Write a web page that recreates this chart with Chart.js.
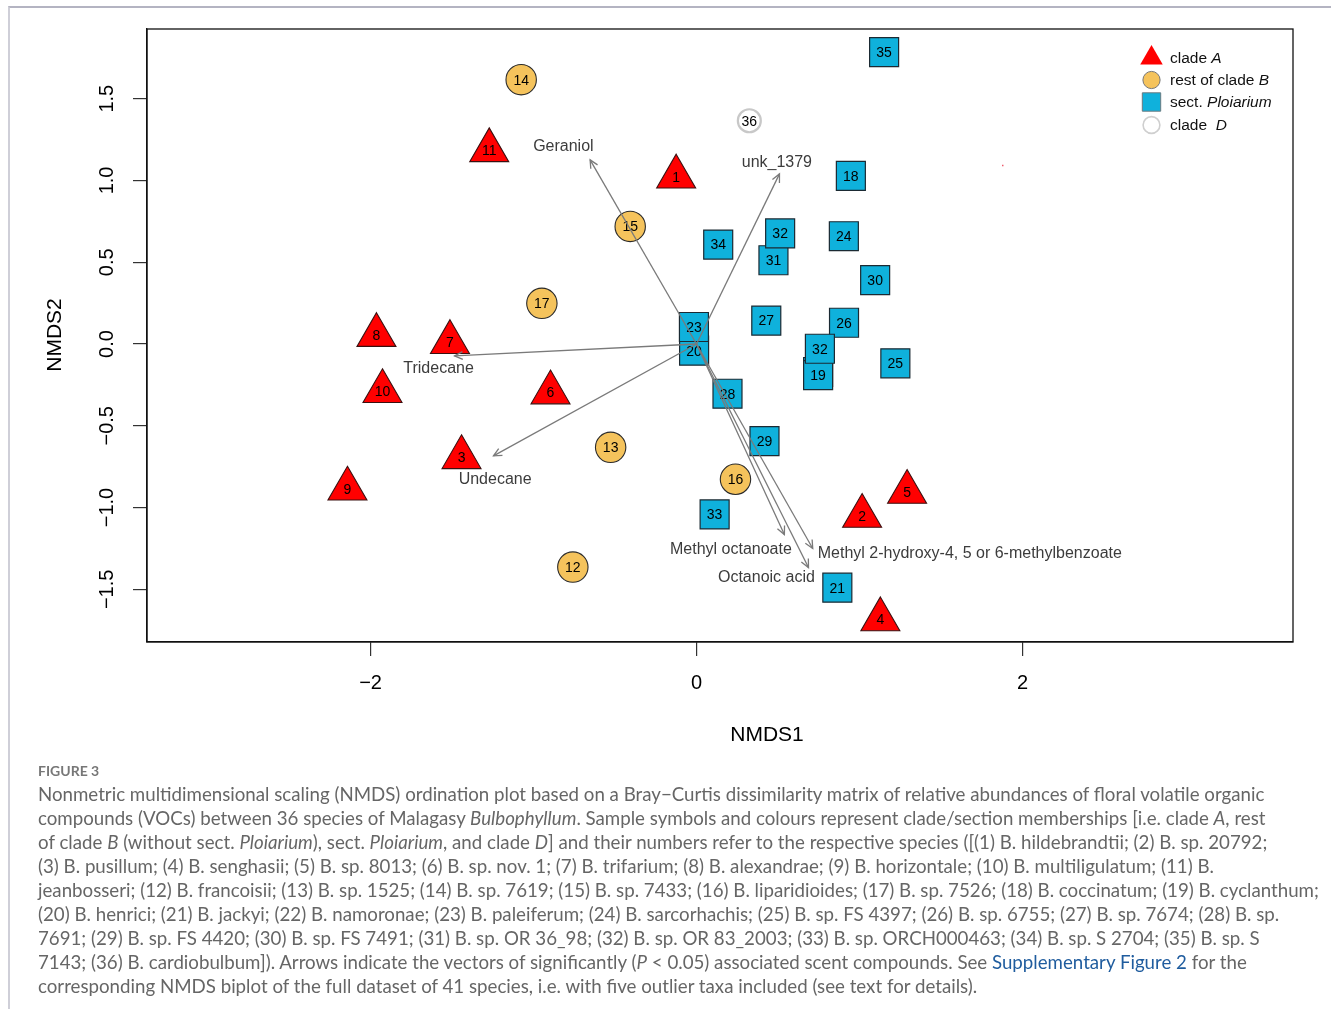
<!DOCTYPE html>
<html>
<head>
<meta charset="utf-8">
<script src="https://cdn.jsdelivr.net/npm/chart.js@4.4.0/dist/chart.umd.min.js"></script>
<style>
  body { margin: 0; background: #fff; width: 1331px; height: 1009px; overflow: hidden; position: relative; }
  .frame { position: absolute; left: 8px; top: 6px; right: 0; bottom: 0; border-left: 2px solid #cfcfd8; border-top: 2px solid #b4b4c2; }
  #wrap { position: absolute; left: 0; top: 0; width: 1331px; height: 760px; }
  .caption { position: absolute; left: 38px; top: 759px; font-family: Lato, "Open Sans", sans-serif; color: #666; font-size: 18.7px; line-height: 24px; white-space: nowrap; }
  .caption .fig { font-size: 14px; font-weight: bold; color: #777; line-height: 23px; }
  .caption a { color: #1f5c9e; text-decoration: none; }
</style>
</head>
<body>
<div class="frame"></div>
<div id="wrap"><canvas id="nmds" width="1331" height="760"></canvas></div>
<div class="caption">
  <div class="fig">FIGURE 3</div>
  <div>Nonmetric multidimensional scaling (NMDS) ordination plot based on a Bray−Curtis dissimilarity matrix of relative abundances of floral volatile organic</div>
  <div>compounds (VOCs) between 36 species of Malagasy <i>Bulbophyllum</i>. Sample symbols and colours represent clade/section memberships [i.e. clade <i>A</i>, rest</div>
  <div>of clade <i>B</i> (without sect. <i>Ploiarium</i>), sect. <i>Ploiarium</i>, and clade <i>D</i>] and their numbers refer to the respective species ([(1) B. hildebrandtii; (2) B. sp. 20792;</div>
  <div>(3) B. pusillum; (4) B. senghasii; (5) B. sp. 8013; (6) B. sp. nov. 1; (7) B. trifarium; (8) B. alexandrae; (9) B. horizontale; (10) B. multiligulatum; (11) B.</div>
  <div>jeanbosseri; (12) B. francoisii; (13) B. sp. 1525; (14) B. sp. 7619; (15) B. sp. 7433; (16) B. liparidioides; (17) B. sp. 7526; (18) B. coccinatum; (19) B. cyclanthum;</div>
  <div>(20) B. henrici; (21) B. jackyi; (22) B. namoronae; (23) B. paleiferum; (24) B. sarcorhachis; (25) B. sp. FS 4397; (26) B. sp. 6755; (27) B. sp. 7674; (28) B. sp.</div>
  <div>7691; (29) B. sp. FS 4420; (30) B. sp. FS 7491; (31) B. sp. OR 36_98; (32) B. sp. OR 83_2003; (33) B. sp. ORCH000463; (34) B. sp. S 2704; (35) B. sp. S</div>
  <div>7143; (36) B. cardiobulbum]). Arrows indicate the vectors of significantly (<i>P</i> &lt; 0.05) associated scent compounds. See <a>Supplementary Figure 2</a> for the</div>
  <div>corresponding NMDS biplot of the full dataset of 41 species, i.e. with five outlier taxa included (see text for details).</div>
</div>
<script>
// species scores (NMDS1, NMDS2)
const cladeAIds = ['1', '2', '3', '4', '5', '6', '7', '8', '9', '10', '11'];
const cladeAX = [-0.125, 1.016, -1.442, 1.128, 1.292, -0.896, -1.513, -1.964, -2.142, -1.927, -1.272];
const cladeAY = [1.023, -1.052, -0.693, -1.684, -0.905, -0.297, 0.011, 0.054, -0.885, -0.289, 1.184];

const cladeBIds = ['12', '13', '14', '15', '16', '17'];
const cladeBX = [-0.759, -0.527, -1.076, -0.407, 0.239, -0.949];
const cladeBY = [-1.364, -0.632, 1.616, 0.719, -0.827, 0.249];

const ploiIds = ['18', '19', '20', '21', '23', '24', '25', '26', '27', '28', '29', '30', '31', '32', '32', '33', '34', '35'];
const ploiX = [0.947, 0.746, -0.015, 0.864, -0.016, 0.904, 1.220, 0.905, 0.428, 0.190, 0.417, 1.096, 0.472, 0.513, 0.757, 0.111, 0.133, 1.151];
const ploiY = [1.028, -0.190, -0.041, -1.490, 0.104, 0.659, -0.118, 0.130, 0.143, -0.304, -0.594, 0.390, 0.512, 0.676, -0.029, -1.042, 0.608, 1.785];

// square almost completely hidden behind 19 / 32
const hiddenIds = ['22'];
const hiddenX = [0.746];
const hiddenY = [-0.171];

const cladeDIds = ['36'];
const cladeDX = [0.324];
const cladeDY = [1.365];

// stray mark in the upper right of the plot
const strayX = [1.879];
const strayY = [1.091];

// fitted scent vectors and where their names sit
const vecNames = ['Geraniol', 'unk_1379', 'Tridecane', 'Undecane', 'Methyl octanoate', 'Methyl 2-hydroxy-4, 5 or 6-methylbenzoate', 'Octanoic acid'];
const vecX = [-0.653, 0.509, -1.485, -1.246, 0.539, 0.713, 0.687];
const vecY = [1.126, 1.040, -0.073, -0.684, -1.165, -1.250, -1.367];
const vecLabelX = [-0.817, 0.493, -1.583, -1.236, 0.211, 1.677, 0.429];
const vecLabelY = [1.204, 1.112, -0.153, -0.828, -1.255, -1.281, -1.426];

const xTicks = [-2, 0, 2];
const xTickLabels = ['\u22122', '0', '2'];
const yTicks = [-1.5, -1, -0.5, 0, 0.5, 1, 1.5];
const yTickLabels = ['\u22121.5', '\u22121.0', '\u22120.5', '0.0', '0.5', '1.0', '1.5'];
const xLimits = [-3.372, 3.66];
const yLimits = [-1.822, 1.926];

const RED = '#ff0000', ORANGE = '#f5c35c', BLUE = '#0fb1dc';
const FONT = '"Liberation Sans", Arial, Helvetica, sans-serif';

function toPoints(xs, ys) {
    return xs.map((x, i) => ({ x: x, y: ys[i] }));
}

const datasets = [];

vecNames.forEach((name, i) => {
    datasets.push({
        type: 'line',
        label: name,
        data: [{ x: 0, y: 0 }, { x: vecX[i], y: vecY[i] }],
        borderColor: '#7a7a7a',
        borderWidth: 1.3,
        pointRadius: 0,
        showLine: true,
        fill: false,
        order: 0,
        clip: false,
        arrow: true,
        vecLabel: { text: name, x: vecLabelX[i], y: vecLabelY[i] }
    });
});

datasets.push({
    label: 'sect. Ploiarium',
    data: toPoints(ploiX, ploiY),
    ids: ploiIds,
    pointStyle: 'rect',
    pointRadius: 20.5,
    backgroundColor: BLUE,
    borderColor: '#1b2a33',
    borderWidth: 1.2,
    order: 1,
    clip: false
});
datasets.push({
    label: 'hidden',
    data: toPoints(hiddenX, hiddenY),
    ids: hiddenIds,
    pointStyle: 'rect',
    pointRadius: 20.5,
    backgroundColor: BLUE,
    borderColor: '#1b2a33',
    borderWidth: 1.2,
    order: 2,
    clip: false
});
datasets.push({
    label: 'stray',
    data: toPoints(strayX, strayY),
    pointStyle: 'rect',
    pointRadius: 1,
    backgroundColor: '#ee5566',
    borderWidth: 0,
    order: 2,
    clip: false
});
datasets.push({
    label: 'rest of clade B',
    data: toPoints(cladeBX, cladeBY),
    ids: cladeBIds,
    pointStyle: 'circle',
    pointRadius: 15.2,
    backgroundColor: ORANGE,
    borderColor: '#2b2b2b',
    borderWidth: 1.1,
    order: 3,
    clip: false
});
datasets.push({
    label: 'clade D',
    data: toPoints(cladeDX, cladeDY),
    ids: cladeDIds,
    pointStyle: 'circle',
    pointRadius: 11.5,
    backgroundColor: '#ffffff',
    borderColor: '#c8c8c8',
    borderWidth: 2.2,
    order: 3,
    clip: false
});
datasets.push({
    label: 'clade A',
    data: toPoints(cladeAX, cladeAY),
    ids: cladeAIds,
    pointStyle: 'triangle',
    pointRadius: 22.5,
    backgroundColor: RED,
    borderColor: '#3a1010',
    borderWidth: 1.1,
    order: 4,
    clip: false
});

const plotDecor = {
    id: 'plotDecor',
    beforeDatasetsDraw(chart) {
        const { ctx, chartArea: a } = chart;
        ctx.save();
        ctx.strokeStyle = '#111';
        ctx.lineWidth = 1.3;
        ctx.strokeRect(a.left, a.top, a.right - a.left, a.bottom - a.top);
        ctx.restore();
    },
    afterDatasetDraw(chart, args) {
        const ds = chart.data.datasets[args.index];
        const ctx = chart.ctx;
        const pts = args.meta.data;
        ctx.save();
        if (ds.ids) {
            ctx.font = '14px ' + FONT;
            ctx.fillStyle = '#000';
            ctx.textAlign = 'center';
            ctx.textBaseline = 'middle';
            pts.forEach((p, i) => ctx.fillText(ds.ids[i], p.x, p.y + 1));
        }
        if (ds.arrow) {
            const p0 = pts[0], p1 = pts[1];
            const ang = Math.atan2(p1.y - p0.y, p1.x - p0.x);
            const len = 9, spread = Math.PI / 7;
            ctx.strokeStyle = ds.borderColor;
            ctx.lineWidth = 1.3;
            ctx.beginPath();
            ctx.moveTo(p1.x - len * Math.cos(ang - spread), p1.y - len * Math.sin(ang - spread));
            ctx.lineTo(p1.x, p1.y);
            ctx.lineTo(p1.x - len * Math.cos(ang + spread), p1.y - len * Math.sin(ang + spread));
            ctx.stroke();
            const xs = chart.scales.x, ys = chart.scales.y;
            ctx.font = '16px ' + FONT;
            ctx.fillStyle = '#3c3c3c';
            ctx.textAlign = 'center';
            ctx.textBaseline = 'middle';
            ctx.fillText(ds.vecLabel.text, xs.getPixelForValue(ds.vecLabel.x), ys.getPixelForValue(ds.vecLabel.y));
        }
        ctx.restore();
    },
    afterDraw(chart) {
        const { ctx, chartArea: a } = chart;
        const xs = chart.scales.x, ys = chart.scales.y;
        ctx.save();
        ctx.fillStyle = '#000';
        ctx.font = '20px ' + FONT;
        ctx.textAlign = 'center';
        ctx.textBaseline = 'middle';
        xTicks.forEach((v, i) => ctx.fillText(xTickLabels[i], xs.getPixelForValue(v), a.bottom + 41));
        yTicks.forEach((v, i) => {
            ctx.save();
            ctx.translate(a.left - 40, ys.getPixelForValue(v));
            ctx.rotate(-Math.PI / 2);
            ctx.fillText(yTickLabels[i], 0, 0);
            ctx.restore();
        });
        ctx.font = '21px ' + FONT;
        ctx.fillText('NMDS1', 767, a.bottom + 93);
        ctx.save();
        ctx.translate(55, 335);
        ctx.rotate(-Math.PI / 2);
        ctx.fillText('NMDS2', 0, 0);
        ctx.restore();

        // legend
        const items = [
            { style: 'triangle', r: 13, fill: RED, stroke: RED, bw: 0, y: 58, pre: 'clade ', it: 'A' },
            { style: 'circle', r: 8.6, fill: ORANGE, stroke: '#777', bw: 1, y: 80, pre: 'rest of clade ', it: 'B' },
            { style: 'rect', r: 13, fill: BLUE, stroke: '#6a7a80', bw: 1, y: 102, pre: 'sect. ', it: 'Ploiarium' },
            { style: 'circle', r: 8.4, fill: '#fff', stroke: '#cfcfcf', bw: 1.6, y: 125, pre: 'clade  ', it: 'D' }
        ];
        items.forEach(item => {
            ctx.fillStyle = item.fill;
            ctx.strokeStyle = item.stroke;
            ctx.lineWidth = item.bw;
            Chart.helpers.drawPoint(ctx, { pointStyle: item.style, radius: item.r, rotation: 0, borderWidth: item.bw }, 1151.5, item.y);
            ctx.fillStyle = '#111';
            ctx.textAlign = 'left';
            ctx.font = '15.5px ' + FONT;
            ctx.fillText(item.pre, 1170, item.y + 1);
            const w = ctx.measureText(item.pre).width;
            ctx.font = 'italic 15.5px ' + FONT;
            ctx.fillText(item.it, 1170 + w, item.y + 1);
        });
        ctx.restore();
    }
};

function setTicks(values) {
    return scale => { scale.ticks = values.map(v => ({ value: v })); };
}

new Chart(document.getElementById('nmds'), {
    type: 'scatter',
    data: { datasets: datasets },
    options: {
        responsive: false,
        animation: false,
        events: [],
        layout: { padding: { left: 133, right: 38, top: 29, bottom: 104 } },
        plugins: { legend: { display: false }, tooltip: { enabled: false } },
        scales: {
            x: {
                type: 'linear',
                min: xLimits[0],
                max: xLimits[1],
                afterBuildTicks: setTicks(xTicks),
                ticks: { display: false },
                grid: { drawOnChartArea: false, drawTicks: true, tickLength: 14, color: '#333', lineWidth: 1.2 },
                border: { display: true, color: '#111', width: 1.3 }
            },
            y: {
                type: 'linear',
                min: yLimits[0],
                max: yLimits[1],
                afterBuildTicks: setTicks(yTicks),
                ticks: { display: false },
                grid: { drawOnChartArea: false, drawTicks: true, tickLength: 14, color: '#333', lineWidth: 1.2 },
                border: { display: true, color: '#111', width: 1.3 }
            }
        }
    },
    plugins: [plotDecor]
});
</script>
</body>
</html>
